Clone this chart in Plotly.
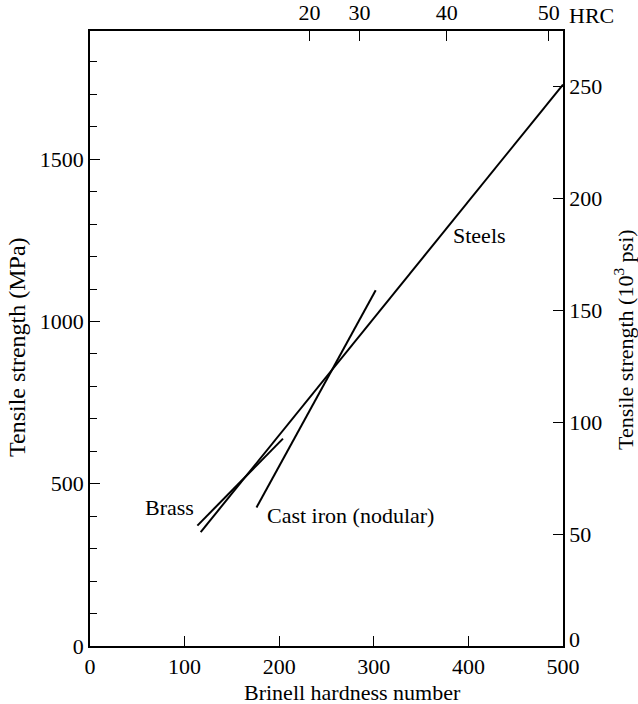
import plotly.graph_objects as go

# Data (Brinell hardness number vs tensile strength in MPa)
steel_bhn = [117, 500]
steel_mpa = [351, 1730]
brass_bhn = [113.5, 204]
brass_mpa = [371, 639]
cast_bhn = [176, 302]
cast_mpa = [427, 1096]

x_ticks = [0, 100, 200, 300, 400, 500]
mpa_ticks = [0, 500, 1000, 1500]
ksi_ticks = [50, 100, 150, 200, 250]
ksi_zero = [0]
hrc_bhn = [232, 285, 377, 485]
hrc_labels = ["20", "30", "40", "50"]

MPA_MAX = 1895
KSI_PER_MPA = 1 / 6.895

FONT = "Liberation Serif"
FS = 22

# plot area in pixels
L, R, T, B = 90, 563, 31, 646
W, H = 638, 704


def px(xp):
    return (xp - L) / (R - L)


def py(yp):
    return (B - yp) / (B - T)


fig = go.Figure()
line = dict(color="black", width=2)
fig.add_trace(go.Scatter(x=steel_bhn, y=steel_mpa, mode="lines", line=line, showlegend=False))
fig.add_trace(go.Scatter(x=brass_bhn, y=brass_mpa, mode="lines", line=line, showlegend=False))
fig.add_trace(go.Scatter(x=cast_bhn, y=cast_mpa, mode="lines", line=line, showlegend=False))
fig.add_trace(go.Scatter(x=[None], y=[None], xaxis="x2", yaxis="y2", showlegend=False))
fig.add_trace(go.Scatter(x=[None], y=[None], xaxis="x", yaxis="y3", showlegend=False))

axis_common = dict(showgrid=False, zeroline=False, showline=True, linecolor="black",
                   linewidth=1.5, ticks="inside", ticklen=10, tickwidth=1.3, automargin=False,
                   tickcolor="black", tickfont=dict(family=FONT, size=FS, color="black"))

fig.update_layout(
    width=W, height=H,
    margin=dict(l=L, r=W - R, t=T, b=H - B, autoexpand=False),
    plot_bgcolor="white", paper_bgcolor="white",
    font=dict(family=FONT, size=FS, color="black"),
    xaxis=dict(range=[0, 500], tickvals=x_ticks, **axis_common),
    xaxis2=dict(range=[0, 500], overlaying="x", side="top", tickvals=hrc_bhn,
                ticktext=hrc_labels, anchor="y", **axis_common),
    yaxis=dict(range=[0, MPA_MAX], tickvals=mpa_ticks,
               minor=dict(dtick=100, tick0=0, ticks="inside", ticklen=7, tickwidth=1.3, tickcolor="black"),
               **axis_common),
    yaxis2=dict(range=[0, MPA_MAX * KSI_PER_MPA], overlaying="y", side="right",
                tickvals=ksi_ticks, anchor="x", **axis_common),
    yaxis3=dict(range=[0, MPA_MAX * KSI_PER_MPA], overlaying="y", side="right", anchor="x",
                tickvals=ksi_zero, showgrid=False, zeroline=False, showline=False, ticks="",
                automargin=False, ticklabelshift=-7, ticklabelstandoff=5,
                tickfont=dict(family=FONT, size=FS, color="black")),
)

ann = dict(showarrow=False, font=dict(family=FONT, size=FS, color="black"))
fig.add_annotation(x=112, y=426, xref="x", yref="y", text="Brass", xanchor="right", yanchor="middle", **ann)
fig.add_annotation(x=185, y=401, xref="x", yref="y", text="Cast iron (nodular)", xanchor="left", yanchor="middle", **ann)
fig.add_annotation(x=382, y=1265, xref="x", yref="y", text="Steels", xanchor="left", yanchor="middle", **ann)
fig.add_annotation(x=px(591), y=py(16), xref="paper", yref="paper", text="HRC",
                   xanchor="center", yanchor="middle", **ann)
fig.add_annotation(x=px(352), y=py(692), xref="paper", yref="paper",
                   text="Brinell hardness number", xanchor="center", yanchor="middle", **ann)
fig.add_annotation(x=px(17), y=py(347), xref="paper", yref="paper",
                   text="Tensile strength (MPa)", textangle=-90, xanchor="center", yanchor="middle",
                   showarrow=False, font=dict(family=FONT, size=24, color="black"))
fig.add_annotation(x=px(624), y=py(340), xref="paper", yref="paper",
                   text="Tensile strength (10<sup>3</sup> psi)", textangle=-90, xanchor="center", yanchor="middle", **ann)

fig.write_html("out.html")
